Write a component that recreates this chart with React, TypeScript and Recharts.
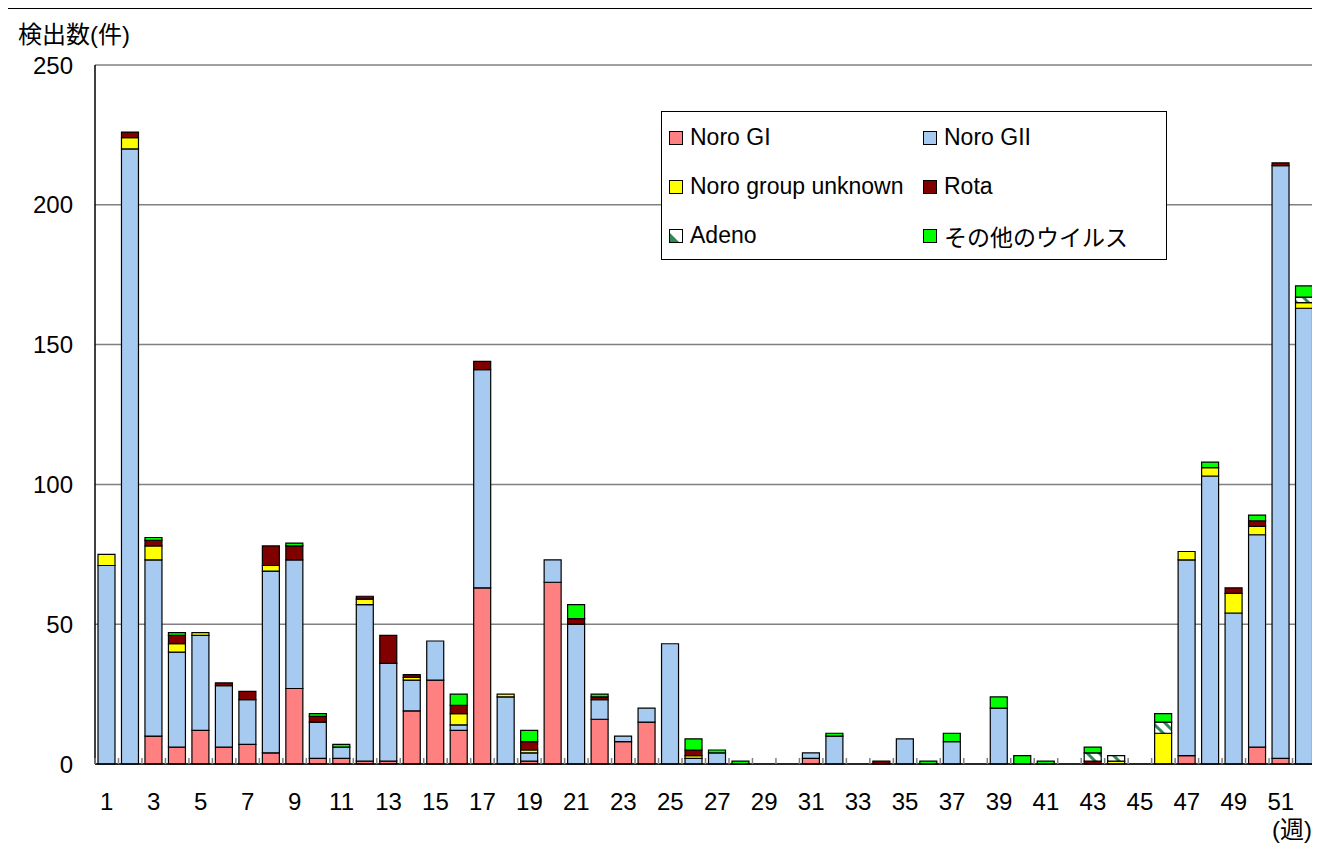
import { BarChart, Bar, XAxis, YAxis, CartesianGrid } from 'recharts';

const FONT = '"Liberation Sans", Arial, "Noto Sans CJK JP", sans-serif';

// 週 (week number)
const weeks = [
  1, 2, 3, 4, 5, 6, 7, 8, 9, 10, 11, 12, 13, 14, 15, 16, 17, 18, 19, 20, 21, 22, 23, 24, 25, 26,
  27, 28, 29, 30, 31, 32, 33, 34, 35, 36, 37, 38, 39, 40, 41, 42, 43, 44, 45, 46, 47, 48, 49, 50, 51, 52,
];

// 検出数 per week
const noroGI = [
  0, 0, 10, 6, 12, 6, 7, 4, 27, 2, 2, 1, 1, 19, 30, 12, 63, 0, 1, 65, 0, 16, 8, 15, 0, 0,
  0, 0, 0, 0, 2, 0, 0, 0, 0, 0, 0, 0, 0, 0, 0, 0, 0, 0, 0, 0, 3, 0, 0, 6, 2, 0,
];
const noroGII = [
  71, 220, 63, 34, 34, 22, 16, 65, 46, 13, 4, 56, 35, 11, 14, 2, 78, 24, 3, 8, 50, 7, 2, 5, 43, 2,
  4, 0, 0, 0, 2, 10, 0, 0, 9, 0, 8, 0, 20, 0, 0, 0, 0, 0, 0, 0, 70, 103, 54, 76, 212, 163,
];
const noroUnknown = [
  4, 4, 5, 3, 1, 0, 0, 2, 0, 0, 0, 2, 0, 1, 0, 4, 0, 1, 1, 0, 0, 0, 0, 0, 0, 1,
  0, 0, 0, 0, 0, 0, 0, 0, 0, 0, 0, 0, 0, 0, 0, 0, 0, 1, 0, 11, 3, 3, 7, 3, 0, 2,
];
const rota = [
  0, 2, 2, 3, 0, 1, 3, 7, 5, 2, 0, 1, 10, 1, 0, 3, 3, 0, 3, 0, 2, 1, 0, 0, 0, 2,
  0, 0, 0, 0, 0, 0, 0, 1, 0, 0, 0, 0, 0, 0, 0, 0, 1, 0, 0, 0, 0, 0, 2, 2, 1, 0,
];
const adeno = [
  0, 0, 0, 0, 0, 0, 0, 0, 0, 0, 0, 0, 0, 0, 0, 0, 0, 0, 0, 0, 0, 0, 0, 0, 0, 0,
  0, 0, 0, 0, 0, 0, 0, 0, 0, 0, 0, 0, 0, 0, 0, 0, 3, 2, 0, 4, 0, 0, 0, 0, 0, 2,
];
const others = [
  0, 0, 1, 1, 0, 0, 0, 0, 1, 1, 1, 0, 0, 0, 0, 4, 0, 0, 4, 0, 5, 1, 0, 0, 0, 4,
  1, 1, 0, 0, 0, 1, 0, 0, 0, 1, 3, 0, 4, 3, 1, 0, 2, 0, 0, 3, 0, 2, 0, 2, 0, 4,
];

const yTicks = [0, 50, 100, 150, 200, 250];

const series = [
  { key: 'gi', name: 'Noro GI', values: noroGI, fill: '#FF8080' },
  { key: 'gii', name: 'Noro GII', values: noroGII, fill: '#A6CAF0' },
  { key: 'unk', name: 'Noro group unknown', values: noroUnknown, fill: '#FFFF00' },
  { key: 'rota', name: 'Rota', values: rota, fill: '#800000' },
  { key: 'adeno', name: 'Adeno', values: adeno, fill: 'url(#adenoHatch)' },
  { key: 'other', name: 'その他のウイルス', values: others, fill: '#00FF00' },
];

const data = weeks.map((w, i) => {
  const row: Record<string, number> = { week: w };
  series.forEach((s) => (row[s.key] = s.values[i]));
  return row;
});

const TICK_MARGIN = 29;

const WeekTick = (props: any) => {
  const { x, y, payload } = props;
  const half = payload.offset || 11.75;
  const axisY = y - TICK_MARGIN;
  const wk = Number(payload.value);
  return (
    <g>
      <line x1={x - half} x2={x - half} y1={axisY} y2={axisY - 6} stroke="#808080" strokeWidth={1.5} />
      {wk % 2 === 1 && (
        <text x={x} y={y} dy="0.71em" textAnchor="middle" fontSize={24} fill="#000" fontFamily={FONT}>
          {wk}
        </text>
      )}
    </g>
  );
};

const Swatch = ({ fill, hatch }: { fill: string; hatch?: boolean }) => (
  <svg width={14} height={14} style={{ display: 'block', flex: 'none' }}>
    {hatch && (
      <defs>
        <pattern id="adenoLegend" patternUnits="userSpaceOnUse" width={14} height={14}>
          <rect width={14} height={14} fill="#fff" />
          <path d="M0,3 L11,14 L0,14 Z" fill="#2E8B57" />
        </pattern>
      </defs>
    )}
    <rect x={0.5} y={0.5} width={13} height={13} fill={hatch ? 'url(#adenoLegend)' : fill} stroke="#000" strokeWidth={1} />
  </svg>
);

const LegendBox = () => (
  <div
    style={{
      position: 'absolute',
      left: 654,
      top: 102,
      width: 506,
      height: 149,
      boxSizing: 'border-box',
      border: '1px solid #000',
      background: '#fff',
      paddingLeft: 7,
      paddingTop: 1,
      display: 'grid',
      gridTemplateColumns: '254px 1fr',
      fontFamily: FONT,
      fontSize: 23,
      color: '#000',
    }}
  >
    {series.map((s) => (
      <div key={s.key} style={{ height: 49, display: 'flex', alignItems: 'center' }}>
        <Swatch fill={s.fill} hatch={s.key === 'adeno'} />
        <span style={{ marginLeft: 7, whiteSpace: 'nowrap' }}>{s.name}</span>
      </div>
    ))}
  </div>
);

export default function App() {
  return (
    <div
      style={{
        position: 'relative',
        width: 1314,
        height: 845,
        marginLeft: -2,
        border: '1px solid #000',
        boxSizing: 'border-box',
        background: '#fff',
        fontFamily: FONT,
      }}
    >
      <div style={{ position: 'absolute', left: 11, top: 14, fontSize: 24, lineHeight: '24px', whiteSpace: 'nowrap' }}>
        検出数(件)
      </div>
      <div style={{ position: 'absolute', left: 1265, top: 809, fontSize: 24, lineHeight: '24px', whiteSpace: 'nowrap' }}>
        (週)
      </div>
      <div style={{ position: 'absolute', left: 0, top: 0 }}>
        <BarChart width={1312} height={839} data={data} margin={{ top: 56, right: 3, bottom: 34, left: 0 }} barSize={17}>
          <defs>
            <pattern id="adenoHatch" patternUnits="userSpaceOnUse" width={12} height={12}>
              <rect width={12} height={12} fill="#fff" />
              <path d="M0,0 L12,12 M-3,9 L3,15 M9,-3 L15,3" stroke="#2E8B57" strokeWidth={3} />
            </pattern>
          </defs>
          <CartesianGrid vertical={false} stroke="#808080" strokeWidth={1.5} />
          <XAxis
            dataKey="week"
            interval={0}
            height={50}
            tickSize={0}
            tickMargin={TICK_MARGIN}
            tickLine={false}
            axisLine={{ stroke: '#000', strokeWidth: 1.5 }}
            tick={<WeekTick />}
          />
          <XAxis xAxisId="top" dataKey="week" orientation="top" height={0} tick={false} tickLine={false} axisLine={{ stroke: '#000', strokeWidth: 1.5 }} />
          <YAxis
            width={88}
            domain={[0, 250]}
            ticks={yTicks}
            interval={0}
            tickSize={0}
            tickMargin={22}
            tickLine={false}
            axisLine={{ stroke: '#000', strokeWidth: 1.5 }}
            tick={{ fontSize: 24, fill: '#000', fontFamily: FONT }}
          />
          <YAxis yAxisId="right" orientation="right" width={0} domain={[0, 250]} tick={false} tickLine={false} axisLine={{ stroke: '#000', strokeWidth: 1.5 }} />
          {series.map((s) => (
            <Bar
              key={s.key}
              dataKey={s.key}
              name={s.name}
              stackId="v"
              fill={s.fill}
              stroke="#000"
              strokeWidth={1.2}
              isAnimationActive={false}
            />
          ))}
        </BarChart>
      </div>
      <LegendBox />
    </div>
  );
}
